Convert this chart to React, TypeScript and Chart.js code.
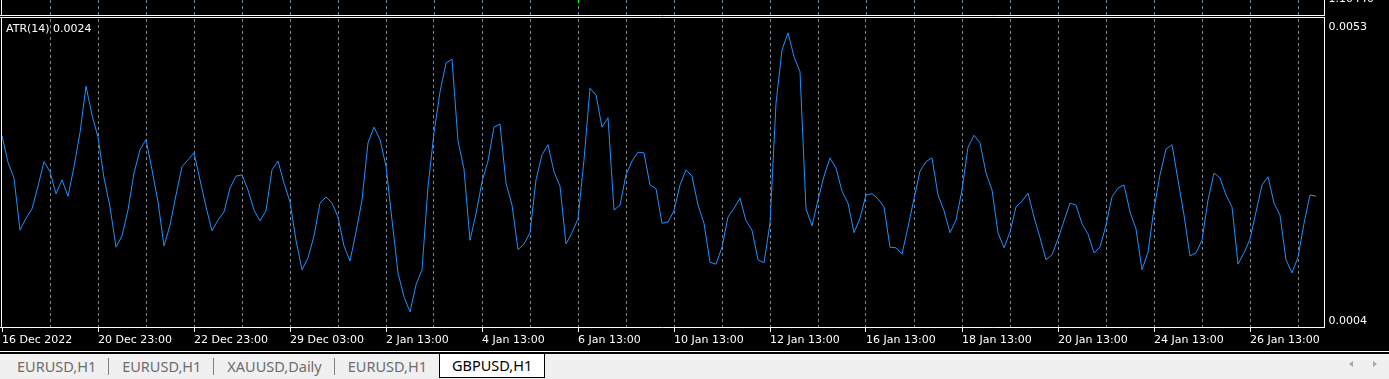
import React, { useEffect, useRef } from 'react';
import { Chart, registerables } from 'chart.js';

Chart.register(...registerables);

// ---- data ----
const BARS_PER_SAMPLE = 3; // H1 bars between sampled ATR values
const TOTAL_BARS = 661;
const ATR_VALUES = [
  0.00344, 0.00302, 0.00277, 0.00194, 0.00213, 0.00228, 0.00264, 0.00303, 0.00287, 0.00252,
  0.00274, 0.00248, 0.00295, 0.00349, 0.00423, 0.00377, 0.00342, 0.00277, 0.00231, 0.00167,
  0.00185, 0.00226, 0.00285, 0.00322, 0.00338, 0.0029, 0.00239, 0.00169, 0.00202, 0.0025,
  0.00295, 0.00306, 0.00317, 0.00274, 0.00231, 0.00193, 0.0021, 0.00223, 0.00261, 0.0028,
  0.00282, 0.00258, 0.00226, 0.00209, 0.00225, 0.0029, 0.00304, 0.00269, 0.00239, 0.00178,
  0.00131, 0.0015, 0.00185, 0.00237, 0.00247, 0.00237, 0.00215, 0.00169, 0.00145, 0.00191,
  0.00242, 0.00333, 0.00358, 0.00338, 0.00296, 0.0021, 0.00126, 0.00088, 0.00064, 0.00107,
  0.00131, 0.00263, 0.00349, 0.00414, 0.0046, 0.00466, 0.00336, 0.00291, 0.00178, 0.0022,
  0.00271, 0.00304, 0.00358, 0.00363, 0.00269, 0.00234, 0.00163, 0.00172, 0.0019, 0.00274,
  0.00314, 0.0033, 0.00287, 0.00264, 0.00172, 0.0019, 0.00212, 0.00306, 0.0042, 0.00409,
  0.00358, 0.00373, 0.00226, 0.00234, 0.00282, 0.00304, 0.00318, 0.00317, 0.00266, 0.0026,
  0.00205, 0.00207, 0.00225, 0.00266, 0.0029, 0.0028, 0.00234, 0.00205, 0.00143, 0.0014,
  0.00167, 0.00215, 0.00229, 0.00245, 0.00209, 0.00194, 0.00147, 0.00142, 0.00205, 0.00396,
  0.00481, 0.00508, 0.0047, 0.00446, 0.00228, 0.00201, 0.00242, 0.0028, 0.00309, 0.00293,
  0.00256, 0.00237, 0.0019, 0.00213, 0.0025, 0.00252, 0.00244, 0.00231, 0.00167, 0.00166,
  0.00156, 0.00199, 0.00244, 0.00288, 0.00303, 0.00309, 0.0025, 0.00225, 0.0019, 0.0021,
  0.00258, 0.00326, 0.00345, 0.00333, 0.00285, 0.00258, 0.0019, 0.00166, 0.00191, 0.00231,
  0.0024, 0.00253, 0.00215, 0.00182, 0.00147, 0.00155, 0.0018, 0.00209, 0.00237, 0.00234,
  0.00204, 0.00188, 0.00158, 0.00167, 0.00202, 0.00247, 0.00261, 0.00266, 0.00223, 0.00196,
  0.00131, 0.00159, 0.00228, 0.00282, 0.00323, 0.0033, 0.00274, 0.00218, 0.00153, 0.00158,
  0.00178, 0.00242, 0.00285, 0.00277, 0.0025, 0.00231, 0.0014, 0.00158, 0.0018, 0.00223,
  0.00266, 0.00279, 0.00237, 0.00218, 0.00147, 0.00126, 0.00151, 0.00205, 0.0025, 0.00248,
];
const GRID_BARS = [
  0, 24, 48, 72, 96, 120, 144, 168, 192, 216, 240, 264, 288, 312,
  336, 360, 384, 408, 432, 456, 480, 504, 528, 552, 576, 600, 624, 648,
];
const LABEL_BARS = [0, 48, 96, 144, 192, 240, 288, 336, 384, 432, 480, 528, 576, 624];
const X_LABELS = [
  '16 Dec 2022', '20 Dec 23:00', '22 Dec 23:00', '29 Dec 03:00', '2 Jan 13:00',
  '4 Jan 13:00', '6 Jan 13:00', '10 Jan 13:00', '12 Jan 13:00', '16 Jan 13:00',
  '18 Jan 13:00', '20 Jan 13:00', '24 Jan 13:00', '26 Jan 13:00',
];
const Y_MIN = 0.0004;
const Y_MAX = 0.0053;
const INDICATOR_NAME = 'ATR(14)';
const LAST_ATR = '0.0024';
const TOP_PRICE = '1.10440';
const TABS = ['EURUSD,H1', 'EURUSD,H1', 'XAUUSD,Daily', 'EURUSD,H1', 'GBPUSD,H1'];
const ACTIVE_TAB = 4;

// ---- styles ----
const FONT = '"DejaVu Sans", Verdana, sans-serif';
const GRID_COLOR = '#778899';
const LINE_COLOR = '#1E90FF';

const framePlugin = {
  id: 'mtFrame',
  afterDraw(chart: any) {
    const { ctx, chartArea: a, scales } = chart;
    const xs = scales.x;
    const ys = scales.y;
    const L = Math.round(a.left) - 0.5;
    const R = Math.round(a.right) + 0.5;
    const B = Math.round(a.bottom) + 0.5;
    const T = Math.round(a.top) - 1.5;
    const TP = T - 2;
    ctx.save();
    // top (main window) dashed grid
    ctx.strokeStyle = GRID_COLOR;
    ctx.lineWidth = 1;
    ctx.setLineDash([3, 3]);
    ctx.beginPath();
    for (const v of GRID_BARS) {
      if (v === 0) continue;
      const px = Math.round(xs.getPixelForValue(v)) + 0.5;
      ctx.moveTo(px, 0);
      ctx.lineTo(px, TP - 0.5);
    }
    ctx.stroke();
    ctx.setLineDash([]);
    // frames
    ctx.strokeStyle = '#ffffff';
    ctx.beginPath();
    ctx.moveTo(0, TP); ctx.lineTo(R + 0.5, TP);
    ctx.moveTo(0, T); ctx.lineTo(R + 0.5, T);
    ctx.moveTo(L, 0); ctx.lineTo(L, TP);
    ctx.moveTo(L, T); ctx.lineTo(L, B);
    ctx.moveTo(R, 0); ctx.lineTo(R, TP);
    ctx.moveTo(R, T); ctx.lineTo(R, B);
    ctx.moveTo(0, B); ctx.lineTo(R + 0.5, B);
    ctx.stroke();
    // piece of a candle of the main window
    ctx.fillStyle = '#00ff00';
    ctx.fillRect(Math.round(xs.getPixelForValue(288)), 0, 1, 3);
    // texts
    ctx.fillStyle = '#ffffff';
    ctx.font = `11px ${FONT}`;
    ctx.textAlign = 'left';
    ctx.textBaseline = 'middle';
    ctx.fillText(Y_MAX.toFixed(4), R + 4, ys.getPixelForValue(Y_MAX) + 8.5);
    ctx.fillText(Y_MIN.toFixed(4), R + 4, ys.getPixelForValue(Y_MIN) - 6);
    ctx.fillText(`${INDICATOR_NAME} ${LAST_ATR}`, 6, a.top + 10.5);
    ctx.textBaseline = 'alphabetic';
    ctx.fillText(TOP_PRICE, R + 4, 2);
    ctx.restore();
  },
};

export default function App() {
  const canvasRef = useRef<HTMLCanvasElement | null>(null);

  useEffect(() => {
    document.body.style.margin = '0';
    const canvas = canvasRef.current;
    if (!canvas) return;
    const chart = new Chart(canvas, {
      type: 'line',
      data: {
        datasets: [
          {
            data: ATR_VALUES.map((v, i) => ({ x: i * BARS_PER_SAMPLE, y: v })),
            borderColor: LINE_COLOR,
            borderWidth: 1,
            pointRadius: 0,
            tension: 0,
            fill: false,
          },
        ],
      },
      options: {
        responsive: false,
        maintainAspectRatio: false,
        animation: false,
        events: [],
        layout: { padding: { left: 2, top: 19, right: 0, bottom: 0 } },
        plugins: { legend: { display: false }, tooltip: { enabled: false } },
        scales: {
          x: {
            type: 'linear',
            min: 0,
            max: TOTAL_BARS,
            afterBuildTicks: (scale: any) => {
              scale.ticks = GRID_BARS.map((v) => ({ value: v }));
            },
            afterFit: (scale: any) => {
              scale.height = 24;
            },
            grid: {
              color: (c: any) => (c.tick && c.tick.value === 0 ? 'rgba(0,0,0,0)' : GRID_COLOR),
              lineWidth: 1,
              drawTicks: true,
              tickLength: 5,
              tickWidth: 1,
              tickBorderDash: [],
              tickColor: (c: any) =>
                c.tick && LABEL_BARS.includes(c.tick.value) ? '#ffffff' : 'rgba(0,0,0,0)',
            },
            border: { display: false, dash: [3, 3] },
            ticks: {
              autoSkip: false,
              maxRotation: 0,
              minRotation: 0,
              align: 'start',
              padding: 2,
              color: '#ffffff',
              font: { family: FONT, size: 11 },
              callback: (value: any) => {
                const i = LABEL_BARS.indexOf(Number(value));
                return i >= 0 ? X_LABELS[i] : '';
              },
            },
          },
          y: {
            type: 'linear',
            position: 'right',
            min: Y_MIN,
            max: Y_MAX,
            grid: { display: false },
            border: { display: false },
            ticks: { display: false },
            afterFit: (scale: any) => {
              scale.width = 65;
            },
          },
        },
      },
      plugins: [framePlugin],
    } as any);
    return () => chart.destroy();
  }, []);

  return (
    <div
      style={{
        position: 'relative',
        width: 1389,
        height: 379,
        background: '#f0f0f0',
        overflow: 'hidden',
      }}
    >
      <div style={{ position: 'absolute', left: 0, top: 0, width: 1389, height: 351, background: '#000' }}>
        <canvas ref={canvasRef} width={1389} height={351} style={{ display: 'block', width: 1389, height: 351 }} />
      </div>
      <div style={{ position: 'absolute', left: 0, top: 351, width: 1389, height: 1, background: '#ffffff' }} />
      <div style={{ position: 'absolute', left: 0, top: 352, width: 1389, height: 2, background: '#000' }} />
      <div
        style={{
          position: 'absolute',
          left: 4,
          top: 354,
          height: 24,
          display: 'flex',
          alignItems: 'stretch',
          fontFamily: '"Noto Sans", "Open Sans", sans-serif',
          fontSize: 14.5,
        }}
      >
        {TABS.map((t, i) => {
          const active = i === ACTIVE_TAB;
          const nextActive = i + 1 === ACTIVE_TAB;
          const last = i === TABS.length - 1;
          return (
            <React.Fragment key={i}>
              <div
                style={{
                  padding: active ? '0 12px 0 12px' : '0 12px 0 13px',
                  display: 'flex',
                  alignItems: 'center',
                  color: active ? '#000' : '#6d6d6d',
                  background: active ? '#fff' : 'transparent',
                  border: active ? '1px solid #000' : 'none',
                  borderTop: 'none',
                  whiteSpace: 'nowrap',
                  lineHeight: '20px',
                  paddingBottom: active ? 2 : 1,
                }}
              >
                {t}
              </div>
              {!active && !nextActive && !last ? (
                <div style={{ width: 1, background: '#808080', marginTop: 4, marginBottom: 3 }} />
              ) : null}
            </React.Fragment>
          );
        })}
      </div>
      <div
        style={{
          position: 'absolute',
          left: 1349,
          top: 361,
          width: 0,
          height: 0,
          borderTop: '3px solid transparent',
          borderBottom: '3px solid transparent',
          borderRight: '4px solid #a6a6a6',
        }}
      />
      <div
        style={{
          position: 'absolute',
          left: 1373,
          top: 361,
          width: 0,
          height: 0,
          borderTop: '3px solid transparent',
          borderBottom: '3px solid transparent',
          borderLeft: '4px solid #a6a6a6',
        }}
      />
    </div>
  );
}
